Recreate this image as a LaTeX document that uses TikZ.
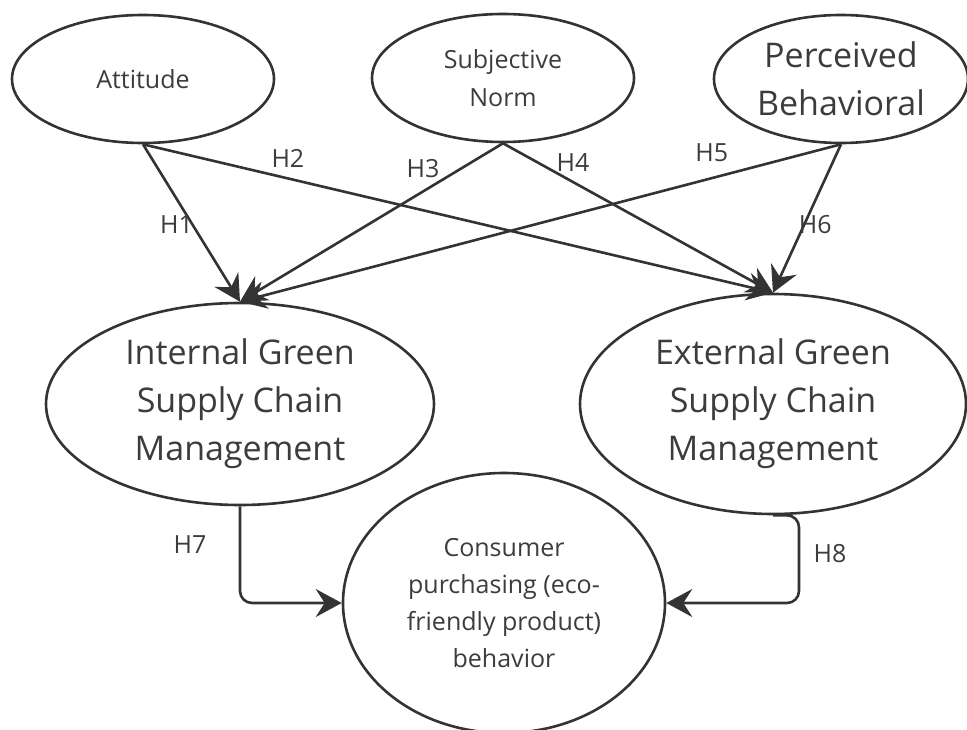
\documentclass[tikz,border=0pt]{standalone}
\usepackage{fontspec}
\setmainfont{Open Sans}
\usetikzlibrary{shapes.geometric,arrows.meta}
\definecolor{edgegray}{HTML}{333333}
\definecolor{inkgray}{HTML}{3c3c3c}

\begin{document}
\begin{tikzpicture}[x=1pt, y=-1pt,
  construct/.style={ellipse, draw=edgegray, line width=2.6pt, inner sep=0pt, align=center, text=inkgray},
  small/.style={font=\fontsize{25}{38}\selectfont},
  large/.style={font=\fontsize{34}{48}\selectfont},
  hyp/.style={draw=edgegray, line width=2.6pt, -{Stealth[length=26pt, width=28pt, inset=9pt]}},
  hlabel/.style={font=\fontsize{25}{30}\selectfont, text=inkgray}]
\useasboundingbox (0,0) rectangle (967,730);

% Predictors
\node[construct, small, minimum width=262pt, minimum height=128pt] (att) at (143,79) {Attitude};
\node[construct, small, minimum width=262pt, minimum height=128pt] (norm) at (503,78) {Subjective\\Norm};
\node[construct, large, minimum width=254pt, minimum height=128pt] (pbc) at (841,79) {Perceived\\Behavioral};

% Mediators
\node[construct, large, minimum width=388pt, minimum height=202pt] (int) at (240,404) {Internal Green\\Supply Chain\\Management};
\node[construct, large, minimum width=386pt, minimum height=220pt] (ext) at (773,404) {External Green\\Supply Chain\\Management};

% Outcome
\node[construct, font=\fontsize{25}{37}\selectfont, minimum width=322pt, minimum height=260pt] (cons) at (504,603) {Consumer\\purchasing (eco-\\friendly product)\\behavior};

% Hypotheses H1--H6
\draw[hyp] (att.south) -- (int.north) node[hlabel, pos=0.51, xshift=-16pt] {H1};
\draw[hyp] (att.south) -- (ext.north) node[hlabel, pos=0.23, yshift=20pt] {H2};
\draw[hyp] (norm.south) -- (int.north) node[hlabel, pos=0.16, xshift=-38pt] {H3};
\draw[hyp] (norm.south) -- (ext.north) node[hlabel, pos=0.13, xshift=35pt] {H4};
\draw[hyp] (pbc.south) -- (int.north) node[hlabel, pos=0.215, yshift=25pt] {H5};
\draw[hyp] (pbc.south) -- (ext.north) node[hlabel, pos=0.54, xshift=11pt] {H6};

% Hypotheses H7--H8
\draw[hyp, rounded corners=12pt] (int.south) |- (cons.west) node[hlabel, pos=0.2, xshift=-50pt] {H7};
\draw[hyp, rounded corners=12pt] (ext.south) -- ++(26,0) |- (cons.east) node[hlabel, pos=0.22, xshift=31pt] {H8};
\end{tikzpicture}
\end{document}
